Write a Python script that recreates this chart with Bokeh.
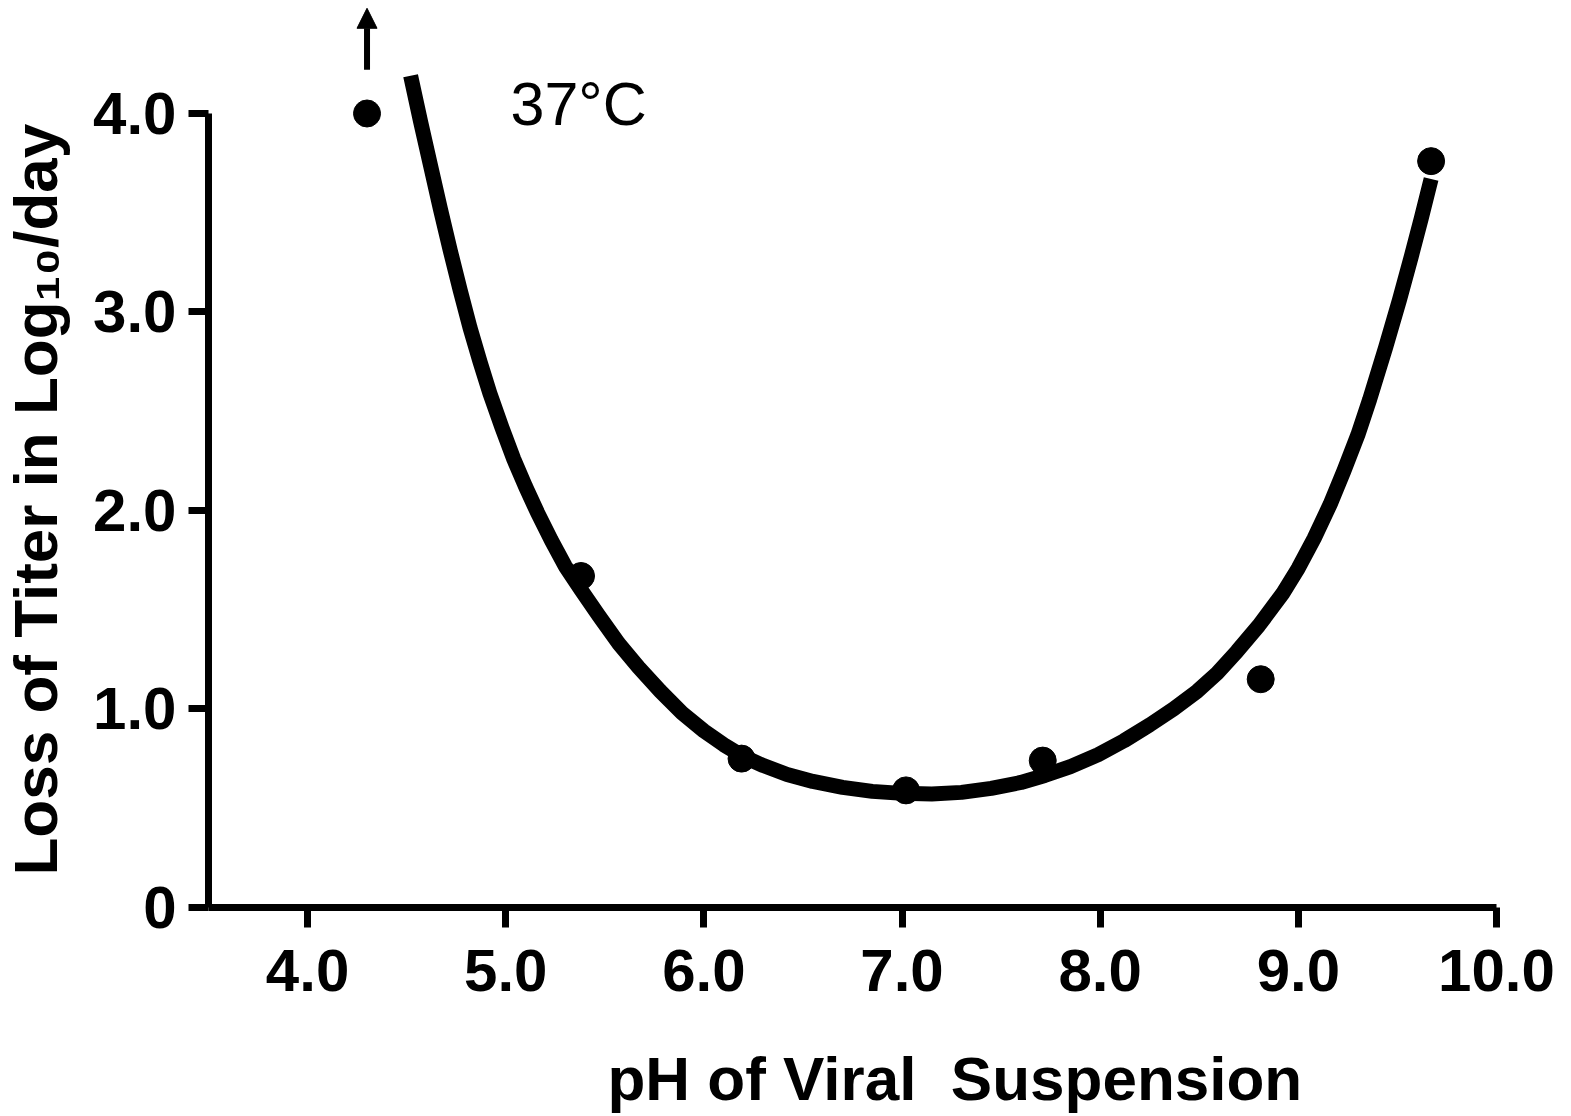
from bokeh.plotting import figure
from bokeh.models import (FixedTicker, Label, Arrow, NormalHead, Range1d, Title)
from bokeh.embed import file_html
from bokeh.resources import INLINE

# ---- data ----
ph_points = [4.30, 5.38, 6.19, 7.02, 7.71, 8.81, 9.67]
loss_points = [4.00, 1.67, 0.75, 0.59, 0.74, 1.15, 3.76]

# hand-drawn fitted curve
curve_ph = [4.52, 4.57, 4.62, 4.67, 4.72, 4.77, 4.82, 4.87, 4.92, 4.98, 5.04,
            5.10, 5.16, 5.23, 5.30, 5.38, 5.47, 5.57, 5.67, 5.78, 5.89, 6.00,
            6.10, 6.20, 6.30, 6.42, 6.55, 6.70, 6.85, 7.00, 7.15, 7.30, 7.45,
            7.60, 7.72, 7.85, 7.99, 8.12, 8.25, 8.37, 8.49, 8.59, 8.69, 8.80,
            8.92, 9.00, 9.08, 9.16, 9.23, 9.30, 9.36, 9.44, 9.51, 9.57, 9.62,
            9.67]
curve_loss = [4.19, 3.96, 3.74, 3.52, 3.31, 3.11, 2.92, 2.75, 2.59, 2.42, 2.26,
              2.12, 1.99, 1.85, 1.72, 1.60, 1.47, 1.33, 1.21, 1.09, 0.98, 0.89,
              0.82, 0.76, 0.715, 0.67, 0.635, 0.605, 0.585, 0.575, 0.572, 0.58, 0.60,
              0.63, 0.665, 0.71, 0.77, 0.84, 0.92, 1.00, 1.09, 1.18, 1.29, 1.42,
              1.58, 1.71, 1.86, 2.03, 2.20, 2.38, 2.56, 2.82, 3.06, 3.28, 3.47,
              3.67]

x_ticks = [4, 5, 6, 7, 8, 9, 10]
x_tick_labels = ["4.0", "5.0", "6.0", "7.0", "8.0", "9.0", "10.0"]
y_ticks = [0, 1, 2, 3, 4]
y_tick_labels = ["0", "1.0", "2.0", "3.0", "4.0"]

x_title = "pH of Viral\u00a0 Suspension"
y_title = "Loss of Titer in Log\u2081\u2080/day"
temp_label = "37°C"

FONT = "Liberation Sans"

p = figure(width=1571, height=1116, output_backend="svg", toolbar_location=None,
           x_range=Range1d(3.5, 10.0), y_range=Range1d(0.0, 4.544),
           min_border_left=208, min_border_right=75, min_border_top=5,
           min_border_bottom=209)
p.outline_line_color = None
p.xgrid.visible = False
p.ygrid.visible = False
p.background_fill_color = "white"
p.border_fill_color = "white"

for ax in (p.xaxis[0], p.yaxis[0]):
    ax.axis_line_width = 7
    ax.axis_line_color = "black"
    ax.major_tick_line_width = 7
    ax.major_tick_line_color = "black"
    ax.major_tick_in = 0
    ax.major_tick_out = 20
    ax.minor_tick_line_color = None
    ax.major_label_text_font = FONT
    ax.major_label_text_font_size = "60px"
    ax.major_label_text_font_style = "bold"
    ax.major_label_text_color = "black"
    # tiny blank label used only as spacing between tick labels and title
    ax.axis_label = "\u00a0"
    ax.axis_label_text_font_size = "1px"

p.xaxis[0].ticker = FixedTicker(ticks=x_ticks)
p.xaxis[0].major_label_overrides = {t: l for t, l in zip(x_ticks, x_tick_labels)}
p.xaxis[0].bounds = (3.5, 10.0)
p.xaxis[0].major_label_standoff = 22
p.yaxis[0].ticker = FixedTicker(ticks=y_ticks)
p.yaxis[0].major_label_overrides = {t: l for t, l in zip(y_ticks, y_tick_labels)}
p.yaxis[0].bounds = (0, 4)
p.yaxis[0].major_label_standoff = 12
p.yaxis[0].axis_label_standoff = 14

# fitted curve
p.line(curve_ph, curve_loss, line_width=15, line_color="black",
       line_join="round", line_cap="butt")
# data points
p.scatter(ph_points, loss_points, size=27, marker="circle",
          fill_color="black", line_color="black")

# arrow above the first point (value off scale)
p.add_layout(Arrow(x_start=ph_points[0], y_start=4.22, x_end=ph_points[0], y_end=4.53,
                   line_width=6, line_color="black",
                   end=NormalHead(size=20, fill_color="black", line_color="black")))

# temperature label
p.add_layout(Label(x=5.024, y=4.05, text=temp_label, text_font=FONT,
                   text_font_size="61px", text_color="black",
                   text_baseline="alphabetic", text_align="left"))

# axis titles
title_kw = dict(text=x_title, align="left", vertical_align="top", offset=399,
                text_font=FONT, text_font_size="62px",
                text_font_style="bold", text_color="black")
try:
    x_t = Title(standoff=-40, **title_kw)
    p.xaxis[0].axis_label_standoff = 66
except Exception:
    x_t = Title(standoff=0, **title_kw)
    p.xaxis[0].axis_label_standoff = 46
p.add_layout(x_t, "below")
p.add_layout(Title(text=y_title, align="left", vertical_align="top", offset=32,
                   standoff=0, text_font=FONT, text_font_size="62px",
                   text_font_style="bold", text_color="black"), "left")

open("out.html", "w").write(file_html(p, INLINE))
